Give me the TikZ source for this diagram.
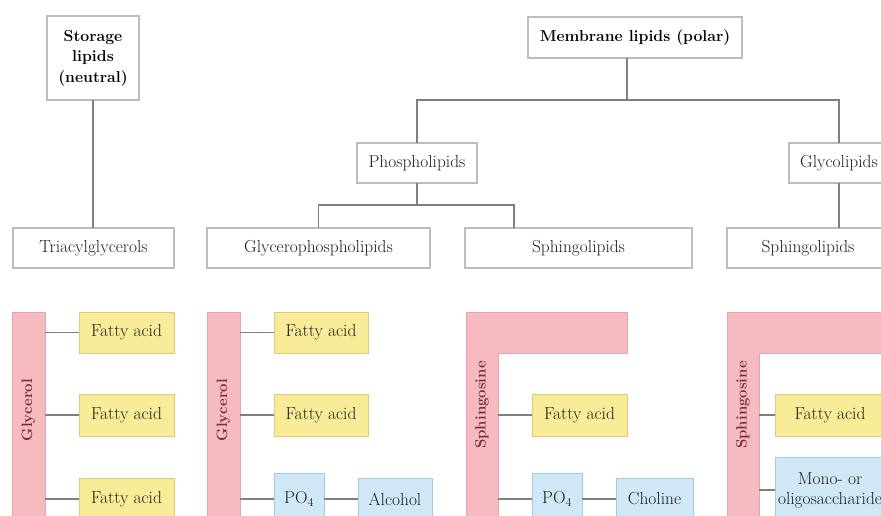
\documentclass[tikz,border=0pt]{standalone}
\usetikzlibrary{calc}
\definecolor{boxline}{HTML}{BDBDBD}
\definecolor{conn}{HTML}{7F7F7F}
\definecolor{pinkfill}{HTML}{F6BAC1}
\definecolor{pinkline}{HTML}{E9A3AB}
\definecolor{yelfill}{HTML}{F9EC98}
\definecolor{yelline}{HTML}{DCCB7A}
\definecolor{bluefill}{HTML}{D0E7F5}
\definecolor{blueline}{HTML}{A8C8DD}
\definecolor{labred}{HTML}{7A2E34}
\definecolor{txt}{HTML}{1F1D1B}
\begin{document}
\begin{tikzpicture}[x=1pt,y=-1pt,
  every node/.style={inner sep=0pt,outer sep=0pt},
  tbox/.style={draw=boxline,line width=1.1pt,fill=white,text=txt,font=\fontsize{17.4}{20}\selectfont,align=center},
  titlebox/.style={tbox,text=black,font=\fontsize{15.8}{20.5}\selectfont\bfseries},
  yel/.style={draw=yelline,line width=1pt,fill=yelfill,text=txt,font=\fontsize{17.4}{20}\selectfont,align=center},
  blu/.style={draw=blueline,line width=1pt,fill=bluefill,text=txt,font=\fontsize{17.4}{20}\selectfont,align=center},
  pinkbar/.style={draw=pinkline,line width=1pt,fill=pinkfill},
  barlabel/.style={rotate=90,text=labred,font=\fontsize{15}{18}\selectfont\bfseries},
  link/.style={draw=conn,line width=1.3pt}]
\useasboundingbox (0,0) rectangle (881,516);
\clip (0,0) rectangle (881,516);
\fill[white] (0,0) rectangle (881,516);

% top boxes
\node[titlebox,minimum width=92,minimum height=84] (storage) at (93,58) {Storage\\lipids\\(neutral)};
\node[titlebox,minimum width=214,minimum height=41] (membrane) at (635,37.5) {Membrane lipids (polar)};
\node[tbox,minimum width=120,minimum height=40] (phospho) at (417,163) {Phospholipids};
\node[tbox,minimum width=100,minimum height=40] (glyco) at (839,163) {Glycolipids};
\node[tbox,minimum width=161,minimum height=40] (tag) at (93.5,248) {Triacylglycerols};
\node[tbox,minimum width=223,minimum height=40] (gpl) at (318.5,248) {Glycerophospholipids};
\node[tbox,minimum width=227,minimum height=40] (spl1) at (578.5,248) {Sphingolipids};
\node[tbox,minimum width=162,minimum height=40] (spl2) at (808,248) {Sphingolipids};

% top connectors
\draw[link] (storage.south) -- (storage.south |- tag.north);
\coordinate (mb) at (627,100);
\draw[link] (membrane.south -| mb) -- (mb);
\draw[link] (phospho.north) |- (mb) -| (glyco.north);
\coordinate (pb) at (417,205);
\coordinate (sx) at (514,0);
\draw[link] (phospho.south) -- (pb);
\draw[link] (gpl.north) |- (pb) -| (spl1.north -| sx);
\draw[link] (glyco.south) -- (glyco.south |- spl2.north);

% ---- triacylglycerol
\node[pinkbar,minimum width=33,minimum height=218] (bar1) at (28.5,421) {};
\node[barlabel] (gly1) at (28.5,410) {Glycerol};
\node[yel,minimum width=95,minimum height=41] (fa1a) at (126.5,332.5) {Fatty acid};
\node[yel,minimum width=95,minimum height=42] (fa1b) at (126.5,415) {Fatty acid};
\node[yel,minimum width=95,minimum height=42] (fa1c) at (126.5,499) {Fatty acid};
\draw[link] (bar1.east |- fa1a.west) -- (fa1a.west);
\draw[link] (bar1.east |- fa1b.west) -- (fa1b.west);
\draw[link] (bar1.east |- fa1c.west) -- (fa1c.west);

% ---- glycerophospholipid
\node[pinkbar,minimum width=33,minimum height=218] (bar2) at (223.5,421) {};
\node[barlabel] (gly2) at (223.5,410) {Glycerol};
\node[yel,minimum width=94,minimum height=41] (fa2a) at (321,332.5) {Fatty acid};
\node[yel,minimum width=94,minimum height=42] (fa2b) at (321,415) {Fatty acid};
\node[blu,minimum width=50,minimum height=52] (po4a) at (299,499) {PO$_4$};
\node[blu,minimum width=74,minimum height=42] (alc) at (395,499) {Alcohol};
\draw[link] (bar2.east |- fa2a.west) -- (fa2a.west);
\draw[link] (bar2.east |- fa2b.west) -- (fa2b.west);
\draw[link] (bar2.east |- po4a.west) -- (po4a.west);
\draw[link] (po4a.east) -- (alc.west);

% ---- sphingophospholipid
\draw[pinkbar] (466,312) -- (627,312) -- (627,353) -- (498,353) -- (498,530) -- (466,530) -- cycle;
\coordinate (s1r) at (498,0);
\node[barlabel] (sph1) at (482,405) {Sphingosine};
\node[yel,minimum width=95,minimum height=42] (fa3) at (579.5,415) {Fatty acid};
\node[blu,minimum width=50,minimum height=52] (po4b) at (557,499) {PO$_4$};
\node[blu,minimum width=77,minimum height=42] (chol) at (654.5,499) {Choline};
\draw[link] (s1r |- fa3.west) -- (fa3.west);
\draw[link] (s1r |- po4b.west) -- (po4b.west);
\draw[link] (po4b.east) -- (chol.west);

% ---- glycosphingolipid
\draw[pinkbar] (727,312) -- (900,312) -- (900,353) -- (759,353) -- (759,530) -- (727,530) -- cycle;
\coordinate (s2r) at (759,0);
\node[barlabel] (sph2) at (743,405) {Sphingosine};
\node[yel,minimum width=110,minimum height=42] (fa4) at (830,415) {Fatty acid};
\node[blu,minimum width=110,minimum height=66] (mono) at (830,490) {Mono- or\\oligosaccharide};
\draw[link] (s2r |- fa4.west) -- (fa4.west);
\draw[link] (s2r |- mono.west) -- (mono.west);
\end{tikzpicture}
\end{document}
